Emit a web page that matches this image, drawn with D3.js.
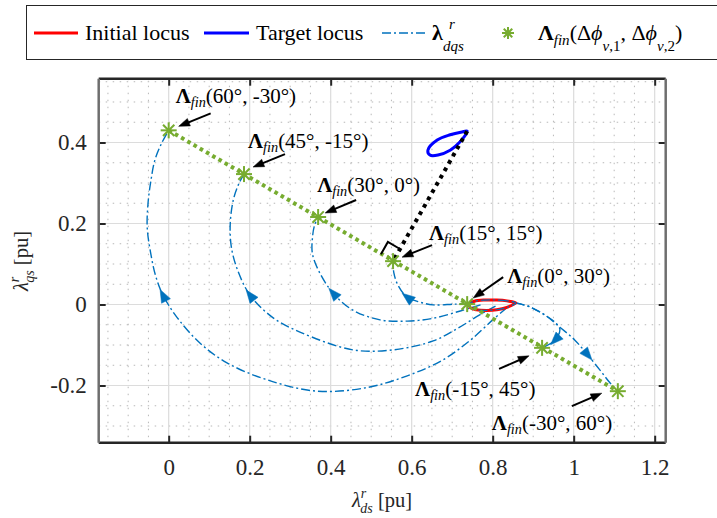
<!DOCTYPE html>
<html>
<head>
<meta charset="utf-8">
<script src="https://cdn.jsdelivr.net/npm/d3@7"></script>
<style>
  body { margin: 0; background: #fff; }
  svg, svg text { font-family: "Liberation Serif", "Times New Roman", "DejaVu Serif", serif; }
  svg { display: block; }
</style>
</head>
<body>
<svg id="chart" width="717" height="518" font-family="Liberation Serif, Times New Roman, DejaVu Serif, serif"></svg>
<script>
// ---- axis ticks ----
const xTicks = [0, 0.2, 0.4, 0.6, 0.8, 1, 1.2];
const xTickLabels = ["0", "0.2", "0.4", "0.6", "0.8", "1", "1.2"];
const yTicks = [-0.2, 0, 0.2, 0.4];
const yTickLabels = ["-0.2", "0", "0.2", "0.4"];

// ---- final flux-linkage points Λfin(Δφv,1, Δφv,2) ----
const finLabels = ["60°, -30°", "45°, -15°", "30°, 0°", "15°, 15°", "0°, 30°", "-15°, 45°", "-30°, 60°"];
const finX = [0, 0.186, 0.369, 0.554, 0.737, 0.922, 1.109];
const finY = [0.43, 0.322, 0.216, 0.107, 0.001, -0.107, -0.214];

// ---- steady-state loci ----
const initialLocus = [[0.857, 0.004], [0.835, 0.009], [0.81, 0.011], [0.78, 0.011], [0.755, 0.008], [0.742, 0.001],
  [0.745, -0.008], [0.76, -0.013], [0.785, -0.0145], [0.81, -0.013], [0.835, -0.007]];
const targetLocus = [[0.737, 0.428], [0.724, 0.426], [0.695, 0.419], [0.663, 0.406], [0.640, 0.381],
  [0.645, 0.369], [0.665, 0.369], [0.695, 0.381], [0.719, 0.401]];

// ---- transient trajectories λr_dqs towards each final point ----
const traj60 = [[0.835, -0.008], [0.80, -0.038], [0.745, -0.088], [0.675, -0.138], [0.589, -0.176], [0.490, -0.205],
  [0.366, -0.214], [0.243, -0.186], [0.144, -0.144], [0.077, -0.095], [0.020, -0.031], [-0.014, 0.023], [-0.032, 0.07],
  [-0.045, 0.13], [-0.053, 0.19], [-0.051, 0.25], [-0.044, 0.305], [-0.034, 0.357], [-0.017, 0.399], [0, 0.43]];
const traj45 = [[0.807, -0.004], [0.769, -0.025], [0.715, -0.058], [0.653, -0.090], [0.554, -0.112], [0.455, -0.112],
  [0.324, -0.068], [0.258, -0.033], [0.201, 0.023], [0.172, 0.08], [0.155, 0.14], [0.152, 0.2], [0.160, 0.26],
  [0.174, 0.30], [0.186, 0.322]];
const traj30 = [[0.770, -0.001], [0.720, -0.016], [0.653, -0.034], [0.589, -0.041], [0.522, -0.038], [0.455, -0.014],
  [0.406, 0.028], [0.372, 0.08], [0.355, 0.125], [0.355, 0.165], [0.360, 0.195], [0.369, 0.216]];
const traj15 = [[0.741, 0.001], [0.707, 0.001], [0.653, -0.001], [0.620, 0.006], [0.589, 0.018], [0.566, 0.048],
  [0.556, 0.078], [0.554, 0.107]];
const trajM15 = [[0.857, 0.004], [0.892, -0.006], [0.929, -0.026], [0.955, -0.045], [0.966, -0.062], [0.954, -0.088],
  [0.922, -0.107]];
const trajM30 = [[0.857, 0.004], [0.892, -0.006], [0.929, -0.026], [0.966, -0.056], [1.003, -0.088], [1.035, -0.125],
  [1.065, -0.162], [1.090, -0.194], [1.109, -0.214]];
const trajectories = [traj60, traj45, traj30, traj15, trajM15, trajM30];
const arrowAt = [11, 8, 6, 4, 5, 5];   // vertex carrying the direction arrow on each trajectory

// ---- colours ----
const cRed = "#ff0000", cBlue = "#0000ff", cTraj = "#0072bd", cGreen = "#77ac30";
const serif = "Liberation Serif, Times New Roman, DejaVu Serif, serif";

const svg = d3.select("#chart");
const W = 717, H = 518;
const plot = { left: 98.7, right: 665.7, top: 78.7, bottom: 442.7 };

// equal aspect axes
const x = d3.scaleLinear().domain([-0.1728, 1.2272]).range([plot.left, plot.right]);
const y = d3.scaleLinear().domain([-0.3412, 0.5575]).range([plot.bottom, plot.top]);

svg.append("rect").attr("width", W).attr("height", H).attr("fill", "#fff");

// ---- grid ----
const grid = svg.append("g");
const isMajor = v => Math.abs(v / 0.2 - Math.round(v / 0.2)) < 1e-6;
const minorX = d3.range(-0.15, 1.2001, 0.05).filter(v => !isMajor(v));
const minorY = d3.range(-0.3, 0.5501, 0.05).filter(v => !isMajor(v));
grid.selectAll(".mx").data(minorX).join("line")
  .attr("x1", d => x(d)).attr("x2", d => x(d)).attr("y1", plot.top).attr("y2", plot.bottom)
  .attr("stroke", "#b8b8b8").attr("stroke-width", 1).attr("stroke-dasharray", "1.5,5.5");
grid.selectAll(".my").data(minorY).join("line")
  .attr("y1", d => y(d)).attr("y2", d => y(d)).attr("x1", plot.left).attr("x2", plot.right)
  .attr("stroke", "#b8b8b8").attr("stroke-width", 1).attr("stroke-dasharray", "1.5,5.5");
grid.selectAll(".gx").data(xTicks).join("line")
  .attr("x1", d => x(d)).attr("x2", d => x(d)).attr("y1", plot.top).attr("y2", plot.bottom)
  .attr("stroke", "#dcdcdc").attr("stroke-width", 1.2);
grid.selectAll(".gy").data(yTicks).join("line")
  .attr("y1", d => y(d)).attr("y2", d => y(d)).attr("x1", plot.left).attr("x2", plot.right)
  .attr("stroke", "#dcdcdc").attr("stroke-width", 1.2);

// ---- axes (inward ticks, boxed) ----
const axFont = 23;
const xAxisB = d3.axisBottom(x).tickValues(xTicks).tickSize(-7).tickPadding(16).tickFormat((d, i) => xTickLabels[i]);
const xAxisT = d3.axisTop(x).tickValues(xTicks).tickSize(-7).tickFormat("");
const yAxisL = d3.axisLeft(y).tickValues(yTicks).tickSize(-7).tickPadding(12).tickFormat((d, i) => yTickLabels[i]);
const yAxisR = d3.axisRight(y).tickValues(yTicks).tickSize(-7).tickFormat("");
function styleAxis(g) {
  g.attr("font-family", serif).attr("font-size", axFont);
  g.select(".domain").remove();
  g.selectAll(".tick line").attr("stroke", "#262626").attr("stroke-width", 2);
  g.selectAll(".tick text").attr("fill", "#262626").attr("font-size", axFont).attr("font-family", serif);
}
svg.append("g").attr("transform", `translate(0,${plot.bottom})`).call(xAxisB).call(styleAxis);
svg.append("g").attr("transform", `translate(0,${plot.top})`).call(xAxisT).call(styleAxis);
svg.append("g").attr("transform", `translate(${plot.left},0)`).call(yAxisL).call(styleAxis);
svg.append("g").attr("transform", `translate(${plot.right},0)`).call(yAxisR).call(styleAxis);

// ---- frame ----
svg.append("line").attr("x1", plot.left).attr("x2", plot.right).attr("y1", plot.bottom).attr("y2", plot.bottom)
  .attr("stroke", "#262626").attr("stroke-width", 2.5);
svg.append("line").attr("x1", plot.left).attr("x2", plot.right).attr("y1", plot.top).attr("y2", plot.top)
  .attr("stroke", "#262626").attr("stroke-width", 2.5);
svg.append("line").attr("x1", plot.left).attr("x2", plot.left).attr("y1", plot.top).attr("y2", plot.bottom)
  .attr("stroke", "#6e6e6e").attr("stroke-width", 2.5);
svg.append("line").attr("x1", plot.right).attr("x2", plot.right).attr("y1", plot.top).attr("y2", plot.bottom)
  .attr("stroke", "#6e6e6e").attr("stroke-width", 2.5);

const marks = svg.append("g");
const px = p => [x(p[0]), y(p[1])];
const smooth = d3.line().x(d => x(d[0])).y(d => y(d[1])).curve(d3.curveCatmullRom.alpha(0.5));
const closedSmooth = d3.line().x(d => x(d[0])).y(d => y(d[1])).curve(d3.curveCatmullRomClosed.alpha(0.5));
const dashDot = "9,3,2,3";

// trajectories
trajectories.forEach(t => {
  marks.append("path").attr("d", smooth(t)).attr("fill", "none")
    .attr("stroke", cTraj).attr("stroke-width", 1.4).attr("stroke-dasharray", dashDot);
});

// filled triangular arrowhead at (cx, cy) pointing along angle a
function arrowHead(g, cx, cy, a, len, wid, color, centred) {
  const ux = Math.cos(a), uy = Math.sin(a), vx = -uy, vy = ux;
  const off = centred ? len / 2 : 0;
  const tx = cx + ux * off, ty = cy + uy * off;
  const bx = tx - ux * len, by = ty - uy * len;
  g.append("path")
    .attr("d", `M${tx},${ty}L${bx + vx * wid / 2},${by + vy * wid / 2}L${bx - vx * wid / 2},${by - vy * wid / 2}Z`)
    .attr("fill", color).attr("stroke", color).attr("stroke-width", 0.5);
}
trajectories.forEach((t, k) => {
  const i = arrowAt[k];
  const p0 = px(t[i - 1]), p1 = px(t[i]), p2 = px(t[i + 1]);
  const a = Math.atan2(p2[1] - p0[1], p2[0] - p0[0]);
  arrowHead(marks, p1[0], p1[1], a, 13, 10, cTraj, true);
});

// initial and target loci
marks.append("path").attr("d", closedSmooth(initialLocus)).attr("fill", "none")
  .attr("stroke", cRed).attr("stroke-width", 3);
marks.append("path").attr("d", closedSmooth(initialLocus)).attr("fill", "none")
  .attr("stroke", cTraj).attr("stroke-width", 1.2).attr("stroke-dasharray", dashDot);
marks.append("path").attr("d", closedSmooth(targetLocus)).attr("fill", "none")
  .attr("stroke", cBlue).attr("stroke-width", 3);

// line through final points
const fin = finX.map((v, i) => [v, finY[i]]);
marks.append("path").attr("d", d3.line().x(d => x(d[0])).y(d => y(d[1]))([fin[0], fin[fin.length - 1]]))
  .attr("fill", "none").attr("stroke", cGreen).attr("stroke-width", 4).attr("stroke-dasharray", "3.6,3.6");

// perpendicular from target locus tip onto that line, with right-angle mark
const foot = fin[3], tip = targetLocus[0];
marks.append("line").attr("x1", x(tip[0])).attr("y1", y(tip[1])).attr("x2", x(foot[0])).attr("y2", y(foot[1]))
  .attr("stroke", "#000").attr("stroke-width", 4).attr("stroke-dasharray", "3.8,4.6");
{
  const A = px(fin[0]), B = px(fin[fin.length - 1]), F = px(foot), T = px(tip);
  let ux = B[0] - A[0], uy = B[1] - A[1]; const lu = Math.hypot(ux, uy); ux /= lu; uy /= lu;
  let vx = T[0] - F[0], vy = T[1] - F[1]; const lv = Math.hypot(vx, vy); vx /= lv; vy /= lv;
  const s = 14;
  marks.append("path")
    .attr("d", `M${F[0] - ux * s},${F[1] - uy * s}L${F[0] - ux * s + vx * s},${F[1] - uy * s + vy * s}L${F[0] + vx * s},${F[1] + vy * s}`)
    .attr("fill", "none").attr("stroke", "#000").attr("stroke-width", 2);
}

// asterisk markers
function asterisk(g, cx, cy, r, color, w) {
  [0, 45, 90, 135].forEach(deg => {
    const a = deg * Math.PI / 180;
    g.append("line").attr("x1", cx - r * Math.cos(a)).attr("y1", cy - r * Math.sin(a))
      .attr("x2", cx + r * Math.cos(a)).attr("y2", cy + r * Math.sin(a))
      .attr("stroke", color).attr("stroke-width", w);
  });
}
fin.forEach(p => asterisk(marks, x(p[0]), y(p[1]), 8, cGreen, 2));

// ---- Λfin annotations ----
const textOff = [[7, -27], [4, -26], [-1, -25], [36, -21], [40, -21], [-127, 48], [-126, 39]];
const headOff = [[10, -4], [9, -7], [7, -4], [9, -4], [6, -6], [-13, 8], [-16, 2]];
const tailOff = [[42, -17], [41, -20], [38, -17], [39, -16], [36, -27], [-43, 21], [-46, 15]];
const ann = svg.append("g");
function finText(g, tx, ty, label, size) {
  const t = g.append("text").attr("x", tx).attr("y", ty).attr("font-size", size).attr("fill", "#000")
    .attr("font-family", serif);
  t.append("tspan").attr("font-weight", "bold").text("Λ");
  t.append("tspan").attr("font-style", "italic").attr("font-size", size * 0.68).attr("dy", 4).text("fin");
  t.append("tspan").attr("dy", -4).text("(" + label + ")");
}
fin.forEach((p, i) => {
  const P = px(p);
  finText(ann, P[0] + textOff[i][0], P[1] + textOff[i][1], finLabels[i], 21);
  const hx = P[0] + headOff[i][0], hy = P[1] + headOff[i][1];
  const tx = P[0] + tailOff[i][0], ty = P[1] + tailOff[i][1];
  const a = Math.atan2(hy - ty, hx - tx);
  ann.append("line").attr("x1", tx).attr("y1", ty).attr("x2", hx - Math.cos(a) * 8).attr("y2", hy - Math.sin(a) * 8)
    .attr("stroke", "#000").attr("stroke-width", 2);
  arrowHead(ann, hx, hy, a, 11, 8, "#000", false);
});

// ---- axis labels ----
const labFont = 20.5, subFont = 14;
const xl = svg.append("text").attr("x", 382).attr("y", 507).attr("text-anchor", "middle")
  .attr("font-size", labFont).attr("fill", "#262626").attr("font-family", serif);
xl.append("tspan").attr("font-style", "italic").text("λ");
xl.append("tspan").attr("font-style", "italic").attr("font-size", subFont).attr("dy", -9).text("r");
xl.append("tspan").attr("font-style", "italic").attr("font-size", subFont).attr("dx", -5.5).attr("dy", 15).text("ds");
xl.append("tspan").attr("dy", -6).text(" [pu]");

const yl = svg.append("text").attr("transform", "translate(28,261) rotate(-90)").attr("text-anchor", "middle")
  .attr("font-size", labFont).attr("fill", "#262626").attr("font-family", serif);
yl.append("tspan").attr("font-style", "italic").text("λ");
yl.append("tspan").attr("font-style", "italic").attr("font-size", subFont).attr("dy", -9).text("r");
yl.append("tspan").attr("font-style", "italic").attr("font-size", subFont).attr("dx", -5.5).attr("dy", 15).text("qs");
yl.append("tspan").attr("dy", -6).text(" [pu]");

// ---- legend ----
const lg = svg.append("g").attr("font-family", serif);
lg.append("rect").attr("x", 26.5).attr("y", 5.5).attr("width", 720).attr("height", 54)
  .attr("fill", "#fff").attr("stroke", "#262626").attr("stroke-width", 1);
const ly = 33, lFont = 22;
lg.append("line").attr("x1", 34).attr("x2", 78).attr("y1", ly).attr("y2", ly).attr("stroke", cRed).attr("stroke-width", 3);
lg.append("text").attr("x", 85).attr("y", 40).attr("font-size", lFont).text("Initial locus");
lg.append("line").attr("x1", 204).attr("x2", 249).attr("y1", ly).attr("y2", ly).attr("stroke", cBlue).attr("stroke-width", 3);
lg.append("text").attr("x", 256).attr("y", 40).attr("font-size", lFont).text("Target locus");
lg.append("line").attr("x1", 382).attr("x2", 425).attr("y1", ly).attr("y2", ly).attr("stroke", cTraj)
  .attr("stroke-width", 1.4).attr("stroke-dasharray", dashDot);
lg.append("text").attr("x", 432).attr("y", 40).attr("font-size", lFont).attr("font-weight", "bold").text("λ");
lg.append("text").attr("x", 449).attr("y", 29).attr("font-size", 15).attr("font-style", "italic").text("r");
lg.append("text").attr("x", 443).attr("y", 51).attr("font-size", 15).attr("font-style", "italic").text("dqs");
asterisk(lg, 508, ly, 6, cGreen, 2);
const lt = lg.append("text").attr("x", 538).attr("y", 40).attr("font-size", lFont);
lt.append("tspan").attr("font-weight", "bold").text("Λ");
lt.append("tspan").attr("font-style", "italic").attr("font-size", 15).attr("dy", 5).text("fin");
lt.append("tspan").attr("dy", -5).text("(Δ");
lt.append("tspan").attr("font-style", "italic").text("ϕ");
lt.append("tspan").attr("font-style", "italic").attr("font-size", 15).attr("dy", 11).text("v");
lt.append("tspan").attr("font-size", 15).text(",1");
lt.append("tspan").attr("dy", -11).text(", Δ");
lt.append("tspan").attr("font-style", "italic").text("ϕ");
lt.append("tspan").attr("font-style", "italic").attr("font-size", 15).attr("dy", 11).text("v");
lt.append("tspan").attr("font-size", 15).text(",2");
lt.append("tspan").attr("dy", -11).text(")");
</script>
</body>
</html>
